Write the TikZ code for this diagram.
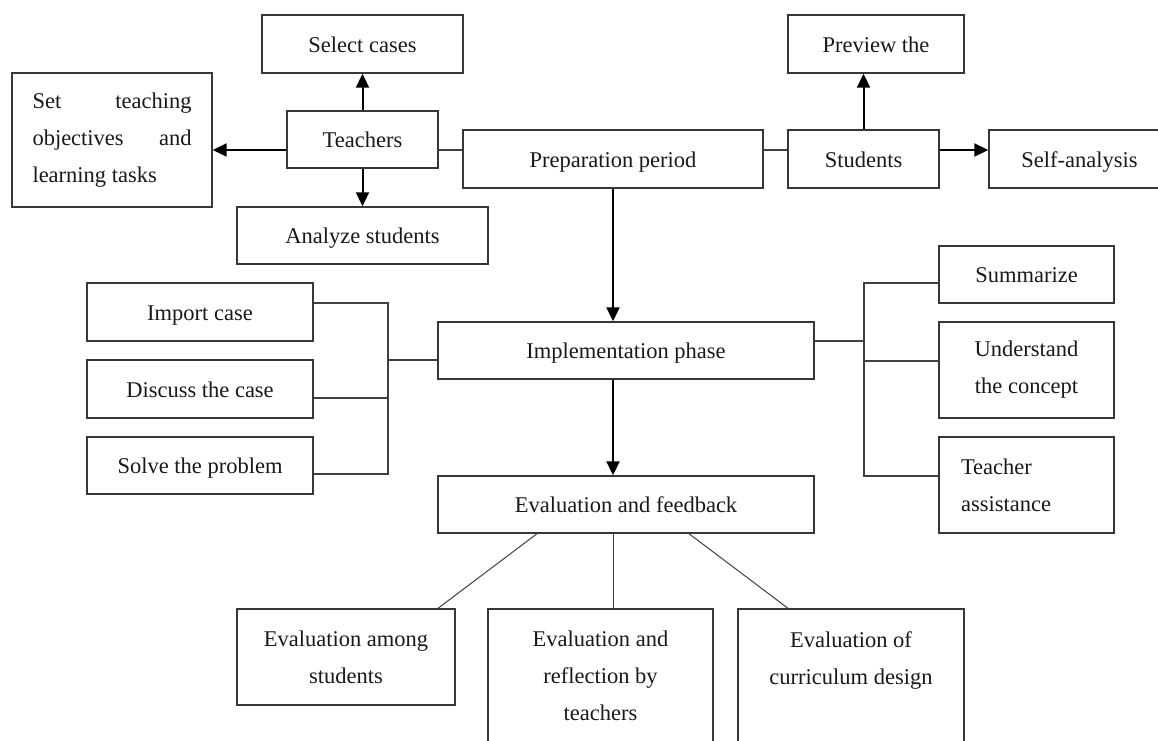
\documentclass[tikz,border=0pt]{standalone}
\usepackage{fontspec}
\setmainfont{Liberation Serif}
\usetikzlibrary{arrows.meta,calc}
\definecolor{boxc}{RGB}{55,55,55}
\definecolor{linec}{RGB}{65,65,65}
\begin{document}
\begin{tikzpicture}[x=1pt,y=-1pt,
  font=\fontsize{22.5}{37}\selectfont,
  box/.style={draw=boxc, line width=1.4pt, inner sep=0pt, align=center, text=black!90},
  one/.style={text height=16pt, text depth=0pt},
  arr/.style={-{Triangle[length=14pt,width=13pt]}, line width=2pt, black},
  ln/.style={line width=1.2pt, draw=linec},
  dl/.style={line width=1pt, draw=linec}]
\useasboundingbox (0,0) rectangle (1158,740);
\clip (0,0) rectangle (1158,740);
\fill[white] (0,0) rectangle (1158,740);

% top area
\node[box, one, minimum width=201pt, minimum height=58pt] (sel) at (362.5,44) {Select cases};
\node[box, minimum width=200pt, minimum height=134pt, text width=159pt, align=justify] (setb) at (112,140)
  {\hyphenpenalty=10000 Set teaching\linebreak objectives and\linebreak learning tasks};
\node[box, one, minimum width=151pt, minimum height=57pt] (teach) at (362.5,139.5) {Teachers};
\node[box, one, minimum width=300pt, minimum height=58pt] (prep) at (613,159) {Preparation period};
\node[box, one, minimum width=151pt, minimum height=58pt] (stud) at (863.5,159) {Students};
\node[box, one, minimum width=176pt, minimum height=58pt] (prev) at (876,44) {Preview the};
\node[box, one, minimum width=181pt, minimum height=58pt] (self) at (1079.5,159) {Self-analysis};
\node[box, one, minimum width=251pt, minimum height=57pt] (anal) at (362.5,235.5) {Analyze students};

% middle area
\node[box, one, minimum width=226pt, minimum height=58pt] (imp) at (200,312) {Import case};
\node[box, one, minimum width=226pt, minimum height=58pt] (disc) at (200,389) {Discuss the case};
\node[box, one, minimum width=226pt, minimum height=57pt] (solv) at (200,465.5) {Solve the problem};
\node[box, one, minimum width=376pt, minimum height=57pt] (impl) at (626,350.5) {Implementation phase};
\node[box, one, minimum width=175pt, minimum height=57pt] (summ) at (1026.5,274.5) {Summarize};
\node[box, minimum width=175pt, minimum height=96pt] (und) at (1026.5,370) {Understand\\the concept};
\node[box, minimum width=175pt, minimum height=96pt, text width=131pt, align=left] (tas) at (1026.5,485) {Teacher\\assistance};
\node[box, one, minimum width=376pt, minimum height=57pt] (eval) at (626,504.5) {Evaluation and feedback};

% bottom area
\node[box, minimum width=218pt, minimum height=96pt] (eam) at (346,657) {Evaluation among\\students};
\node[box, minimum width=225pt, minimum height=151pt] (erf) at (600.5,684.5) {};
\node[anchor=north, inner sep=0pt, align=center, text=black!90] (erft) at (600.5,631) {Evaluation and\\reflection by\\teachers};
\node[box, minimum width=226pt, minimum height=151pt] (ecd) at (851,684.5) {};
\node[anchor=north, inner sep=0pt, align=center, text=black!90] (ecdt) at (851,631) {Evaluation of\\curriculum design};

% top connectors
\coordinate (hy) at (0,150);
\draw[arr] (teach.west |- hy) -- (setb.east |- hy);
\draw[ln] (teach.east |- hy) -- (prep.west |- hy);
\draw[ln] (prep.east |- hy) -- (stud.west |- hy);
\draw[arr] (stud.east |- hy) -- (self.west |- hy);
\draw[arr] (teach.north) -- (sel.south);
\draw[arr] (teach.south) -- (anal.north);
\draw[arr] (stud.north) -- (stud.north |- prev.south);
\draw[arr] (prep.south) -- (impl.north -| prep.south);
\draw[arr] (impl.south -| prep.south) -- (eval.north -| prep.south);

% left bracket
\coordinate (lbt) at (388,303);
\coordinate (lbd) at (388,398);
\coordinate (lbb) at (388,474);
\coordinate (lbi) at (388,360);
\draw[ln] (imp.east |- lbt) -- (lbt) -- (lbb) -- (solv.east |- lbb);
\draw[ln] (disc.east |- lbd) -- (lbd);
\draw[ln] (lbi) -- (impl.west |- lbi);

% right bracket
\coordinate (rbi) at (864,341);
\coordinate (rbt) at (864,283);
\coordinate (rbu) at (864,361);
\coordinate (rbb) at (864,476);
\draw[ln] (impl.east |- rbi) -- (rbi);
\draw[ln] (summ.west |- rbt) -- (rbt) -- (rbb) -- (tas.west |- rbb);
\draw[ln] (rbu) -- (und.west |- rbu);

% bottom connectors
\coordinate (b1) at (537,533);
\coordinate (b3) at (689,533);
\coordinate (e1) at (438,609);
\coordinate (e3) at (788,609);
\draw[dl] (eval.south -| b1) -- (eam.north -| e1);
\draw[dl] (eval.south -| prep.south) -- (erf.north -| prep.south);
\draw[dl] (eval.south -| b3) -- (ecd.north -| e3);
\end{tikzpicture}
\end{document}
